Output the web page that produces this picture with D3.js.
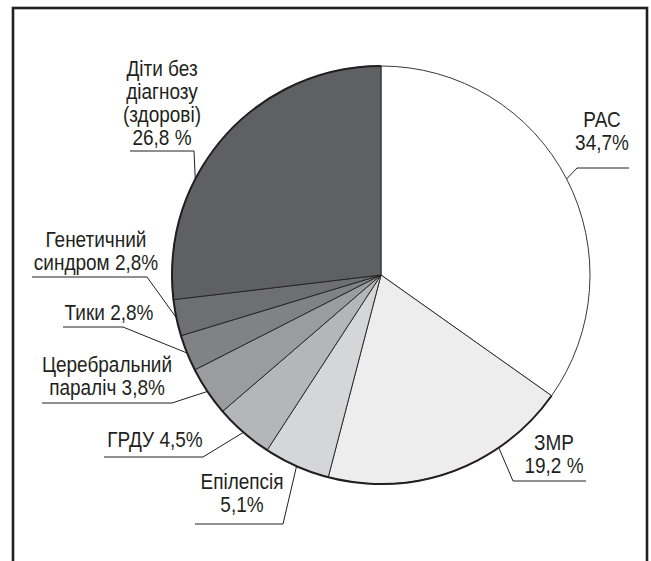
<!DOCTYPE html>
<html lang="uk">

<head>
    <meta charset="utf-8">
    <title>Pie</title>
    <script src="https://d3js.org/d3.v7.min.js" charset="utf-8"></script>
    <style type="text/css">
        body { margin: 0; background: #fff; }
        svg text { font-family: 'Liberation Sans', Arial, sans-serif; font-size: 19px; fill: #231f20; }
    </style>
</head>

<body>

<svg id="svg"></svg>

<script type="text/javascript">

    // data, clockwise from 12 o'clock
    var categories = ['РАС', 'ЗМР', 'Епілепсія', 'ГРДУ', 'Церебральний параліч', 'Тики', 'Генетичний синдром', 'Діти без діагнозу (здорові)'];
    var values = [34.7, 19.2, 5.1, 4.5, 3.8, 2.8, 2.8, 26.8];
    var labelLines = [
        ['РАС', '34,7%'],
        ['ЗМР', '19,2 %'],
        ['Епілепсія', '5,1%'],
        ['ГРДУ 4,5%'],
        ['Церебральний', 'параліч 3,8%'],
        ['Тики 2,8%'],
        ['Генетичний', 'синдром 2,8%'],
        ['Діти без', 'діагнозу', '(здорові)', '26,8 %']
    ];
    var colors = ['#ffffff', '#ededed', '#d5d6d8', '#b5b6b9', '#9b9c9f', '#818285', '#6e6f72', '#5f6063'];

    // label placement (text x, last baseline, elbow, end of shelf, optional anchor angle in degrees)
    var layout = [
        {tx: 602, by: 150, ex: 577, ey: 168, lx: 629},
        {tx: 554, by: 473, ex: 513, ey: 481, lx: 586, deg: 145.7},
        {tx: 242, by: 512, ex: 283, ey: 524, lx: 195},
        {tx: 155, by: 447, ex: 203, ey: 457, lx: 104},
        {tx: 107, by: 395, ex: 172, ey: 403, lx: 42},
        {tx: 109, by: 320, ex: 123, ey: 327, lx: 63},
        {tx: 96, by: 270, ex: 147, ey: 277, lx: 32},
        {tx: 162, by: 145, ex: 194, ey: 151, lx: 130, deg: 297.3}
    ];

    var width = 651, height = 561;
    var cx = 381, cy = 275, r = 209;
    var lineH = 23;
    var stretch = 1.12; // the printed type is a bit taller than it is wide

    var svg = d3.select('svg')
            .attr('width', width)
            .attr('height', height);

    svg.append('rect')
            .attr('x', 13)
            .attr('y', 8)
            .attr('width', 634)
            .attr('height', 620)
            .style('fill', 'none')
            .style('stroke', '#231f20')
            .style('stroke-width', 2.6);

    var pie = d3.pie().sort(null).value(function (d) { return d; });
    var arcs = pie(values);
    var arc = d3.arc().innerRadius(0).outerRadius(r);

    var g = svg.append('g').attr('transform', 'translate(' + cx + ',' + cy + ')');

    g.selectAll('path.slice')
            .data(arcs)
            .enter()
            .append('path')
            .attr('class', 'slice')
            .attr('d', arc)
            .style('fill', function (d, i) { return colors[i]; })
            .style('stroke', '#231f20')
            .style('stroke-width', 0.9)
            .style('stroke-linejoin', 'round');

    // heavier rim on everything after the first slice
    var rim = d3.arc().innerRadius(r).outerRadius(r);
    g.append('path')
            .attr('d', rim({startAngle: arcs[0].endAngle, endAngle: 2 * Math.PI}))
            .style('fill', 'none')
            .style('stroke', '#231f20')
            .style('stroke-width', 2);

    // leaders and labels
    arcs.forEach(function (d, i) {
        var L = layout[i];
        var a = L.deg !== undefined ? L.deg * Math.PI / 180 : (d.startAngle + d.endAngle) / 2;
        var px = cx + r * Math.sin(a);
        var py = cy - r * Math.cos(a);

        svg.append('polyline')
                .attr('points', [[px, py], [L.ex, L.ey], [L.lx, L.ey]].map(function (p) { return p.join(','); }).join(' '))
                .style('fill', 'none')
                .style('stroke', '#231f20')
                .style('stroke-width', 1);

        var lines = labelLines[i];
        var t = svg.append('text')
                .attr('transform', 'translate(' + L.tx + ',' + L.by + ') scale(1,' + stretch + ')')
                .attr('text-anchor', 'middle');
        lines.forEach(function (s, k) {
            t.append('tspan')
                    .attr('x', 0)
                    .attr('y', -(lines.length - 1 - k) * lineH / stretch)
                    .text(s);
        });
    });

</script>
</body>

</html>
